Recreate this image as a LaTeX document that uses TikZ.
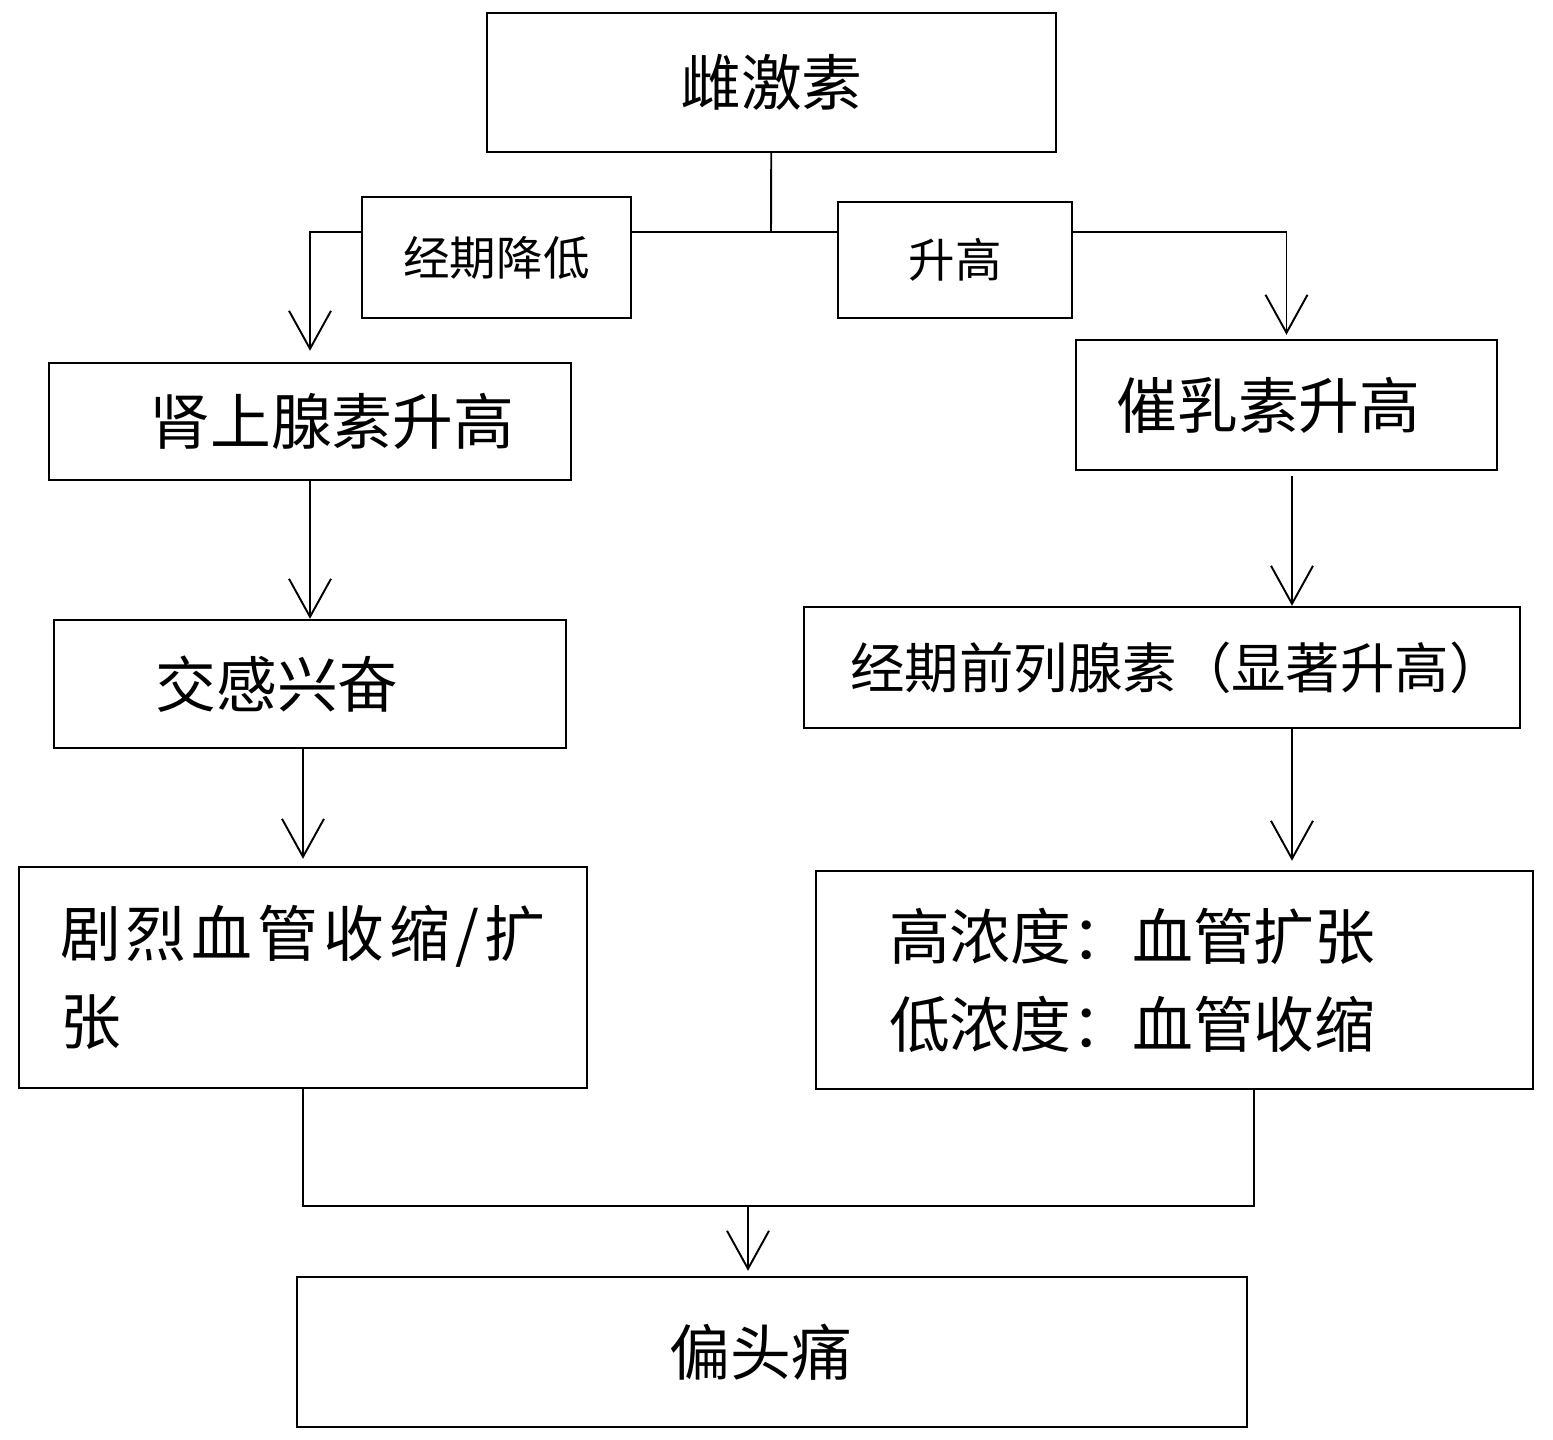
\documentclass[tikz,border=0pt]{standalone}
\usepackage{fontspec}
\setmainfont{Noto Sans CJK SC}
\usepackage{tikz}
\usetikzlibrary{arrows.meta,positioning}

\begin{document}
\begin{tikzpicture}[
  x=0.02cm,
  y=-0.02cm,
  every node/.style={
    rectangle,
    draw=black,
    line width=1.4pt,
    inner sep=0pt,
    align=center,
    font=\fontsize{34.6}{50}\selectfont
  },
  labelbox/.style={
    font=\fontsize{26.5}{32}\selectfont
  },
  midbox/.style={
    font=\fontsize{31}{36}\selectfont
  },
  flow/.style={
    -{Straight Barb[length=7.6mm,width=8.4mm]},
    line width=1.1pt
  },
  link/.style={
    line width=1.1pt
  }
]

\useasboundingbox (0,0) rectangle (1553,1440);

% Top and the two branch labels
\node[minimum width=11.38cm, minimum height=2.78cm] (estrogen) at (771.5,82.5) {雌激素};
\node[labelbox, minimum width=5.38cm, minimum height=2.42cm] (lower) at (496.5,257.5) {经期降低};
\node[labelbox, minimum width=4.68cm, minimum height=2.32cm] (raise) at (955,260) {升高};

% Left column, top to bottom
\node[minimum width=10.44cm, minimum height=2.34cm] (adrenal) at (310,421.5) {\hspace*{0.88cm}肾上腺素升高};
\node[minimum width=10.24cm, minimum height=2.56cm] (sympath) at (310,684) {交感兴奋\hspace*{1.32cm}};
\node[align=left, text width=9.72cm, minimum width=11.36cm, minimum height=4.42cm] (vessel) at (303,977.5)
  {\makebox[9.7cm][s]{剧\hfil 烈\hfil 血\hfil 管\hfil 收\hfil 缩\hfil /\hfil 扩}\\张};

% Right column, top to bottom
\node[minimum width=8.42cm, minimum height=2.6cm] (prolactin) at (1286.5,405) {催乳素升高\hspace*{0.72cm}};
\node[midbox, minimum width=14.32cm, minimum height=2.42cm] (prosta) at (1162,667.5) {\hspace*{0.6cm}经期前列腺素（显著升高）};
\node[align=left, text width=11.42cm, minimum width=14.34cm, minimum height=4.36cm] (hilo) at (1174.5,980) {高浓度：血管扩张\\低浓度：血管收缩};

% Bottom
\node[minimum width=19cm, minimum height=3cm] (migraine) at (772,1352) {偏头痛\hspace*{0.44cm}};

\coordinate (split) at (771,232);
\coordinate (merge) at (748,1206);

% Fork under the top box
\draw[link] (estrogen) -- (split);
\draw[link] (lower.east |- split) -- (raise.west |- split);
\draw[flow, shorten >=0.22cm] (lower.west |- split) -| (adrenal);
\draw[flow, shorten >=0.08cm] (raise.east |- split) -| (prolactin);

% Left chain
\draw[flow] (adrenal) -- (sympath);
\draw[flow, shorten >=0.14cm] (vessel.north |- sympath.south) -- (vessel);

% Right chain
\draw[flow] ([xshift=0.11cm,yshift=-0.1cm]prolactin.south) -- ([xshift=0.11cm]prolactin.south |- prosta.north);
\draw[flow, shorten >=0.18cm] ([xshift=2.6cm]prosta.south) -- ([xshift=2.6cm]prosta.south |- hilo.north);

% Join into the last box
\draw[link] (vessel.south) |- (merge);
\draw[link] ([xshift=1.59cm]hilo.south) |- (merge);
\draw[flow, shorten >=0.1cm] (merge) -- (merge |- migraine.north);

\end{tikzpicture}
\end{document}
